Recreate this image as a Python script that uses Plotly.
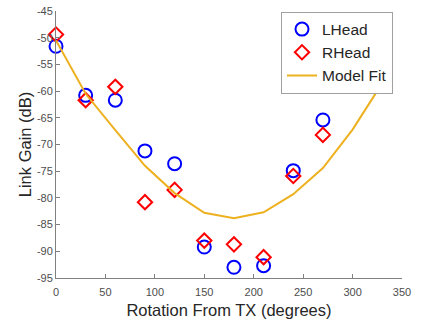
import plotly.graph_objects as go

angles = [0, 30, 60, 90, 120, 150, 180, 210, 240, 270]
lhead = [-51.6, -60.8, -61.7, -71.2, -73.6, -89.2, -93.0, -92.7, -74.9, -65.4]
rhead = [-49.4, -61.7, -59.2, -80.8, -78.5, -88.0, -88.7, -91.1, -75.9, -68.2]

fit_angles = [0, 30, 60, 90, 120, 150, 180, 210, 240, 270, 300, 330]
fit_vals = [-50.5, -60.5, -67.3, -74.0, -79.1, -82.8, -83.8, -82.7, -79.3, -74.4, -67.2, -58.5]

x_ticks = [0, 50, 100, 150, 200, 250, 300, 350]
y_ticks = [-95, -90, -85, -80, -75, -70, -65, -60, -55, -50, -45]

FONT = "Liberation Sans, Arial, sans-serif"

fig = go.Figure()
fig.add_trace(go.Scatter(
    x=angles, y=lhead, mode="markers", name="LHead",
    marker=dict(symbol="circle-open", size=13, color="#0000FF", line=dict(width=2, color="#0000FF")),
    cliponaxis=False,
))
fig.add_trace(go.Scatter(
    x=angles, y=rhead, mode="markers", name="RHead",
    marker=dict(symbol="diamond-open", size=11, color="#FF0000", line=dict(width=2, color="#FF0000")),
    cliponaxis=False,
))
fig.add_trace(go.Scatter(
    x=fit_angles, y=fit_vals, mode="lines", name="Model Fit",
    line=dict(color="#EDB120", width=2),
))

axis_common = dict(
    showgrid=False, zeroline=False, showline=True, linecolor="#808080", linewidth=1,
    ticks="inside", ticklen=4, tickcolor="#808080", mirror=False,
    tickfont=dict(family=FONT, size=11, color="#4d4d4d"),
    automargin=False,
)

fig.update_layout(
    width=421, height=323,
    margin=dict(l=56, r=19, t=11, b=45),
    paper_bgcolor="white", plot_bgcolor="white",
    font=dict(family=FONT, color="#262626"),
    showlegend=True,
    legend=dict(
        x=0.974, y=0.998, xanchor="right", yanchor="top",
        bgcolor="white", bordercolor="#a0a0a0", borderwidth=1,
        font=dict(family=FONT, size=15.5, color="#262626"),
        tracegroupgap=0,
    ),
    xaxis=dict(
        range=[0, 350], tickvals=x_ticks, ticktext=[str(v) for v in x_ticks],
        title=dict(text="Rotation From TX (degrees)", font=dict(family=FONT, size=16.5, color="#262626"), standoff=7),
        ticklabelstandoff=4,
        **axis_common,
    ),
    yaxis=dict(
        range=[-95, -45], tickvals=y_ticks, ticktext=[str(v) for v in y_ticks],
        title=dict(text="Link Gain (dB)", font=dict(family=FONT, size=16.5, color="#262626"), standoff=1),
        **axis_common,
    ),
)

fig.write_html(
    "out.html",
    config={"displayModeBar": False},
    post_script="document.body.style.margin='0';document.body.style.overflow='hidden';",
)
